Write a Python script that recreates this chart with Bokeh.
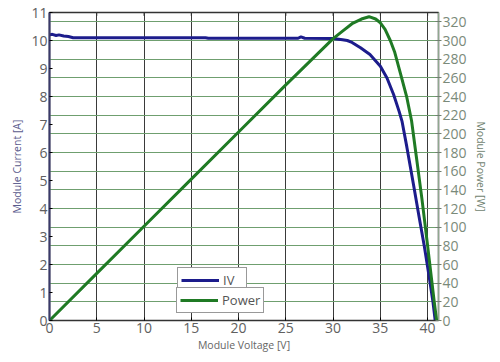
from bokeh.plotting import figure
from bokeh.models import Range1d, LinearAxis, FixedTicker, Grid, Legend, LegendItem
from bokeh.embed import file_html
from bokeh.resources import INLINE

# IV curve: module voltage [V] and module current [A]
iv_voltage = [0, 0.3, 0.7, 1.0, 1.5, 2.0, 2.5, 3.0, 10, 16.5, 16.8, 26.3, 26.6, 27, 30,
              31, 31.5, 32, 32.9, 33.9, 35, 35.7, 36.4, 37.0, 37.3, 37.8, 38.6, 39.1, 39.65,
              40.1, 40.57, 40.8]
iv_current = [10.2, 10.22, 10.18, 10.2, 10.16, 10.14, 10.1, 10.1, 10.1, 10.1, 10.08, 10.08, 10.13,
              10.08, 10.07, 10.03, 10.0, 9.93, 9.74, 9.5, 9.08, 8.66, 8.07, 7.45, 7.1, 6.2, 4.67,
              3.7, 2.65, 1.7, 0.65, 0.0]

# Power curve: module voltage [V] and module power [W]
pw_voltage = [0, 5, 10, 15, 20, 25, 30, 31, 32, 33, 33.8, 34.5, 35, 35.5, 36.05, 36.5, 36.9,
              37.3, 37.8, 38.3, 38.8, 39.4, 40.0, 40.7, 40.95]
pw_power = [0, 50.5, 101, 151.5, 202, 252.5, 302, 310, 318, 323, 325.5, 323, 319, 312, 300, 288,
            273, 258, 239, 214, 176, 130, 80, 20, 0]

x_ticks = [0, 5, 10, 15, 20, 25, 30, 35, 40]
i_ticks = list(range(0, 12))
p_ticks = list(range(0, 340, 20))

FONT = "Open Sans"
BLUE = "#1c1c8c"
GREEN = "#1f7a24"

p = figure(width=490, height=354, output_backend="svg", toolbar_location=None,
           x_range=Range1d(0, 41.15), y_range=Range1d(0, 11),
           min_border_left=49, min_border_right=48, min_border_top=12, min_border_bottom=34)
p.extra_y_ranges = {"power": Range1d(0, 330)}

p.outline_line_color = "#333333"
p.outline_line_width = 1.5
p.background_fill_color = "white"

# grids
p.ygrid.visible = False
p.xgrid.ticker = FixedTicker(ticks=x_ticks)
p.xgrid.grid_line_color = "#3a3a3a"
p.xgrid.grid_line_width = 1
pg = Grid(dimension=1, ticker=FixedTicker(ticks=p_ticks), y_range_name="power",
          grid_line_color="#6f9f6f", grid_line_width=1)
p.add_layout(pg)

# bottom axis
xa = p.xaxis[0]
xa.ticker = FixedTicker(ticks=x_ticks)
xa.axis_label = "Module Voltage [V]"
xa.axis_label_text_font = FONT
xa.axis_label_text_font_style = "normal"
xa.axis_label_text_font_size = "10.5px"
xa.axis_label_text_color = "#666666"
xa.axis_label_standoff = 2
xa.major_label_text_font = FONT
xa.major_label_text_font_size = "14px"
xa.major_label_text_color = "#606060"
xa.major_label_standoff = 2
xa.major_tick_in = 3
xa.major_tick_out = 0
xa.minor_tick_line_color = None
xa.axis_line_color = "#333333"

# left axis
ya = p.yaxis[0]
ya.ticker = FixedTicker(ticks=i_ticks)
ya.axis_label = "Module Current [A]"
ya.axis_label_text_font = FONT
ya.axis_label_text_font_style = "normal"
ya.axis_label_text_font_size = "10.5px"
ya.axis_label_text_color = "#5a5a8c"
ya.axis_label_standoff = 4
ya.major_label_text_font = FONT
ya.major_label_text_font_size = "14px"
ya.major_label_text_color = "#606060"
ya.major_label_standoff = 2
ya.major_tick_in = 3
ya.major_tick_out = 0
ya.minor_tick_line_color = None
ya.axis_line_color = "#3a3a6a"
ya.axis_line_width = 2

# right axis
ra = LinearAxis(y_range_name="power", ticker=FixedTicker(ticks=p_ticks),
                axis_label="Module Power [W]")
ra.axis_label_text_font = FONT
ra.axis_label_text_font_style = "normal"
ra.axis_label_text_font_size = "10.5px"
ra.axis_label_text_color = "#6f7f6f"
ra.axis_label_standoff = 4
ra.major_label_text_font = FONT
ra.major_label_text_font_size = "14px"
ra.major_label_text_color = "#7a8a7a"
ra.major_label_standoff = 1
ra.major_tick_in = 3
ra.major_tick_out = 3
ra.minor_tick_line_color = None
ra.axis_line_color = "#8fa88f"
ra.major_tick_line_color = "#6f7f6f"
p.add_layout(ra, "right")

# top-edge tick marks at the voltage ticks
p.segment(x0=x_ticks, y0=[11] * len(x_ticks), x1=x_ticks, y1=[10.88] * len(x_ticks),
          line_color="#333333", line_width=1)

iv = p.line(iv_voltage, iv_current, line_color=BLUE, line_width=3)
pw = p.line(pw_voltage, pw_power, line_color=GREEN, line_width=3, y_range_name="power")


def make_legend(label, r, loc):
    lg = Legend(items=[LegendItem(label=label, renderers=[r])], location=loc,
                orientation="vertical", margin=0, padding=3, spacing=0,
                glyph_width=38, glyph_height=12, label_height=12, label_standoff=4,
                label_text_font=FONT, label_text_font_size="13px", label_text_color="#555555",
                label_text_line_height=1.0,
                border_line_color="#333333", border_line_width=1,
                background_fill_color="white", background_fill_alpha=1)
    p.add_layout(lg, "center")


make_legend("IV", iv, (128, 27))
make_legend("Power", pw, (127, 7))

open("out.html", "w").write(file_html(p, INLINE))
